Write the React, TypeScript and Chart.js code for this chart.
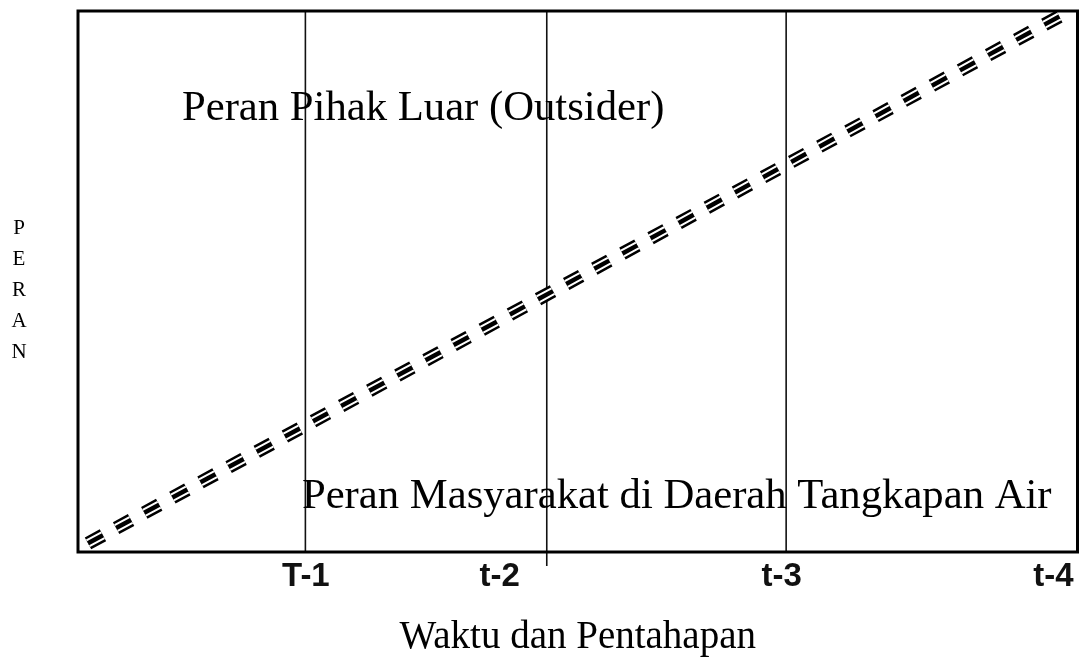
import React, { useEffect, useRef } from "react";
import { Chart, registerables } from "chart.js";

Chart.register(...registerables);

// Axis domain (arbitrary units)
const xRange = [0, 1000];
const yRange = [0, 100];

// Tick positions and labels on the time axis
const tickValues = [228, 422, 704, 976];
const tickLabels = ["T-1", "t-2", "t-3", "t-4"];

// Phase boundaries (vertical separators)
const phaseX = [227.5, 469, 708.5];
const phaseBottom = [0, -2.6, 0];
const phaseTop = [100, 100, 100];

// Diagonal division between the two roles
const roleLineX = [10, 988];
const roleLineY = [1.6, 99.6];

// Text labels
const upperLabel = "Peran Pihak Luar (Outsider)";
const upperPos = [104, 79.9];
const lowerLabel = "Peran Masyarakat di Daerah Tangkapan Air";
const lowerPos = [224, 8.1];
const yTitleLetters = ["P", "E", "R", "A", "N"];
const xTitle = "Waktu dan Pentahapan";

export default function App() {
  const ref = useRef<HTMLCanvasElement | null>(null);

  useEffect(() => {
    if (!ref.current) return;
    const roleLine = roleLineX.map((x, i) => ({ x, y: roleLineY[i] }));
    const dash = [17, 15];
    const datasets: any[] = [];
    phaseX.forEach((x, i) => {
      datasets.push({
        data: [
          { x, y: phaseBottom[i] },
          { x, y: phaseTop[i] },
        ],
        borderColor: "#111",
        borderWidth: 1.6,
        pointRadius: 0,
        clip: false,
        order: 5,
      });
    });
    datasets.push(
      { data: roleLine, borderColor: "#000", borderWidth: 13.5, borderDash: dash, pointRadius: 0, order: 3 },
      { data: roleLine, borderColor: "#fff", borderWidth: 8.5, borderDash: dash, pointRadius: 0, order: 2 },
      { data: roleLine, borderColor: "#000", borderWidth: 4.5, borderDash: dash, pointRadius: 0, order: 1 }
    );

    const decor = {
      id: "decor",
      afterDraw(chart: any) {
        const { ctx, chartArea, scales } = chart;
        ctx.save();
        ctx.strokeStyle = "#000";
        ctx.lineWidth = 3;
        ctx.strokeRect(
          chartArea.left,
          chartArea.top,
          chartArea.right - chartArea.left,
          chartArea.bottom - chartArea.top
        );
        ctx.fillStyle = "#000";
        ctx.font = '42.7px "Liberation Serif", "Times New Roman", serif';
        ctx.textBaseline = "alphabetic";
        ctx.textAlign = "left";
        ctx.fillText(upperLabel, scales.x.getPixelForValue(upperPos[0]), scales.y.getPixelForValue(upperPos[1]));
        ctx.fillText(lowerLabel, scales.x.getPixelForValue(lowerPos[0]), scales.y.getPixelForValue(lowerPos[1]));
        ctx.font = '21px "Liberation Serif", "Times New Roman", serif';
        ctx.textAlign = "center";
        ctx.textBaseline = "middle";
        yTitleLetters.forEach((ch, i) => {
          ctx.fillText(ch, 19, 228 + i * 31);
        });
        ctx.restore();
      },
    };

    const chart = new Chart(ref.current, {
      type: "line",
      data: { datasets },
      options: {
        animation: false,
        responsive: true,
        maintainAspectRatio: false,
        layout: { padding: { left: 0, right: 4.5, top: 11, bottom: 0 } },
        plugins: { legend: { display: false }, tooltip: { enabled: false } },
        scales: {
          x: {
            type: "linear",
            min: xRange[0],
            max: xRange[1],
            grid: { display: false, drawTicks: false },
            border: { display: false },
            afterBuildTicks: (scale: any) => {
              scale.ticks = tickValues.map((v) => ({ value: v }));
            },
            afterFit: (scale: any) => {
              scale.height = 110;
            },
            ticks: {
              autoSkip: false,
              maxRotation: 0,
              padding: 5,
              color: "#111",
              font: { family: '"Liberation Sans", Arial, sans-serif', size: 33, weight: "bold" },
              callback: (value: any) => {
                const i = tickValues.indexOf(Number(value));
                return i >= 0 ? tickLabels[i] : "";
              },
            },
            title: {
              display: true,
              text: xTitle,
              color: "#000",
              padding: { top: 0, bottom: 1 },
              font: { family: '"Liberation Serif", "Times New Roman", serif', size: 39, weight: "normal" },
            },
          },
          y: {
            type: "linear",
            min: yRange[0],
            max: yRange[1],
            grid: { display: false, drawTicks: false },
            border: { display: false },
            ticks: { display: false },
            afterFit: (scale: any) => {
              scale.width = 78;
            },
          },
        },
      },
      plugins: [decor],
    });
    return () => chart.destroy();
  }, []);

  return (
    <div style={{ position: "fixed", left: 0, top: 0, width: 1082, height: 662, background: "#fff" }}>
      <canvas ref={ref} />
    </div>
  );
}
